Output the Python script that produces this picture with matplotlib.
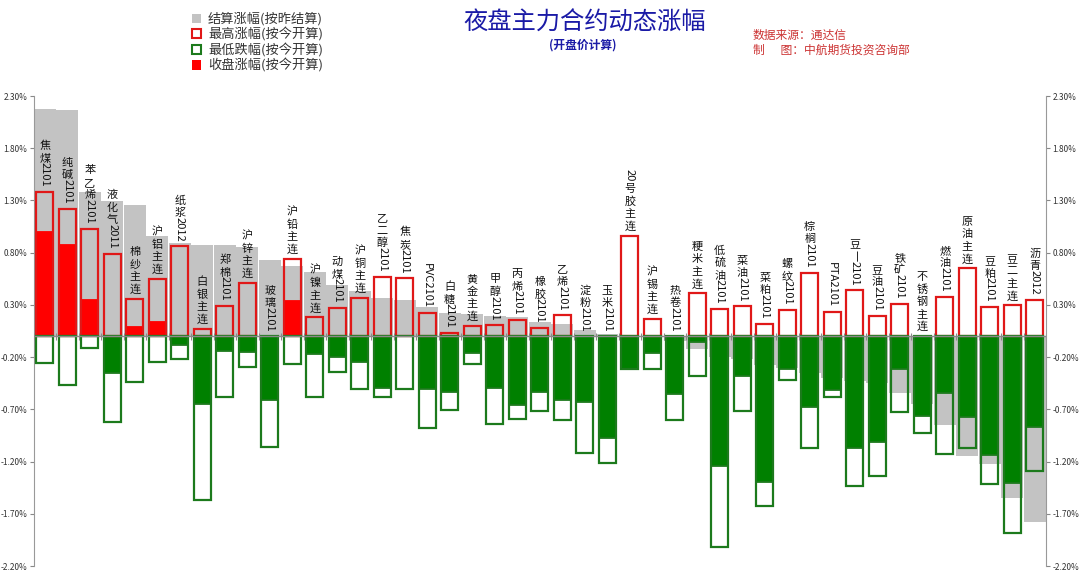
import numpy as np
import matplotlib
matplotlib.use("Agg")
import matplotlib.pyplot as plt
from matplotlib.patches import Patch

plt.rcParams['font.family'] = ['Noto Sans CJK SC', 'DejaVu Sans']

names = ['焦煤2101', '纯碱2101', '苯乙烯2101', '液化气2011', '棉纱主连', '沪铝主连', '纸浆2012',
         '白银主连', '郑棉2101', '沪锌主连', '玻璃2101', '沪铅主连', '沪镍主连', '动煤2101',
         '沪铜主连', '乙二醇2101', '焦炭2101', 'PVC2101', '白糖2101', '黄金主连', '甲醇2101',
         '丙烯2101', '橡胶2101', '乙烯2101', '淀粉2101', '玉米2101', '20号胶主连', '沪锡主连',
         '热卷2101', '粳米主连', '低硫油2101', '菜油2101', '菜粕2101', '螺纹2101', '棕榈2101',
         'PTA2101', '豆一2101', '豆油2101', '铁矿2101', '不锈钢主连', '燃油2101', '原油主连',
         '豆粕2101', '豆二主连', '沥青2012']

# 结算涨幅(按昨结算)
settle = [2.18, 2.17, 1.38, 1.29, 1.26, 0.96, 0.89, 0.875, 0.87, 0.85, 0.73, 0.67, 0.615, 0.49,
          0.435, 0.365, 0.35, 0.28, 0.225, 0.21, 0.19, 0.18, 0.14, 0.115, 0.06, 0.025, 0.0, -0.01,
          -0.05, -0.12, -0.20, -0.22, -0.28, -0.30, -0.35, -0.40, -0.43, -0.45, -0.54, -0.65,
          -0.85, -1.145, -1.22, -1.55, -1.78]
# 最高涨幅(按今开算)
high = [1.38, 1.22, 1.03, 0.79, 0.36, 0.55, 0.86, 0.07, 0.29, 0.51, 0.0, 0.74, 0.18, 0.27,
        0.37, 0.57, 0.555, 0.225, 0.03, 0.10, 0.105, 0.155, 0.08, 0.20, 0.0, 0.0, 0.96, 0.165,
        0.0, 0.41, 0.26, 0.285, 0.12, 0.25, 0.61, 0.235, 0.44, 0.195, 0.31, 0.0, 0.38, 0.65,
        0.28, 0.295, 0.35]
# 最低跌幅(按今开算)
low = [-0.26, -0.47, -0.11, -0.82, -0.44, -0.245, -0.215, -1.565, -0.58, -0.29, -1.065, -0.27,
       -0.585, -0.34, -0.51, -0.58, -0.51, -0.88, -0.705, -0.265, -0.845, -0.79, -0.72, -0.805,
       -1.12, -1.215, -0.31, -0.315, -0.80, -0.38, -2.02, -0.72, -1.63, -0.42, -1.07, -0.58,
       -1.43, -1.34, -0.73, -0.93, -1.13, -1.07, -1.415, -1.88, -1.29]
# 收盘涨幅(按今开算)
close = [1.00, 0.87, 0.35, -0.35, 0.09, 0.135, -0.08, -0.65, -0.145, -0.155, -0.61, 0.335,
         -0.17, -0.20, -0.25, -0.50, 0.0, -0.51, -0.53, -0.16, -0.50, -0.655, -0.535, -0.61,
         -0.63, -0.975, -0.31, -0.165, -0.55, -0.06, -1.24, -0.38, -1.40, -0.31, -0.68, -0.515,
         -1.075, -1.01, -0.31, -0.76, -0.54, -0.77, -1.14, -1.405, -0.865]

yticks = [2.3, 1.8, 1.3, 0.8, 0.3, -0.2, -0.7, -1.2, -1.7, -2.2]

GRAY = '#c3c3c3'
RED = '#ff0000'
RED_EDGE = '#e01818'
GREEN = '#008000'
GREEN_EDGE = '#1c7a1c'

fig = plt.figure(figsize=(10.8, 5.72), dpi=100)
ax = fig.add_axes([33.5 / 1080, 6 / 572, (1046 - 33.5) / 1080, 470 / 572])

x = np.arange(len(names))
high = np.array(high)
low = np.array(low)
close = np.array(close)

ax.bar(x, settle, width=0.96, color=GRAY, zorder=1)

cl_col = np.array([RED if c > 0 else GREEN for c in close])
cl_edge = np.array([RED if c > 0 else GREEN_EDGE for c in close])
m = close != 0
ax.bar(x[m], close[m], width=0.74, color=cl_col[m], edgecolor=cl_edge[m],
       linewidth=1.3, zorder=2)

m = high > 0
ax.bar(x[m], high[m], width=0.74, facecolor='none', edgecolor=RED_EDGE, linewidth=1.6, zorder=3)
m = low < 0
ax.bar(x[m], low[m], width=0.74, facecolor='none', edgecolor=GREEN_EDGE, linewidth=1.6, zorder=3)

# 类别轴(在0处)
ax.axhline(0, color='#8a8a8a', lw=1, zorder=4)
ax.vlines(np.arange(-0.5, len(names)), -0.035, 0.035, color='#8a8a8a', lw=0.8, zorder=4)

ax.set_xlim(-0.5, len(names) - 0.5)
ax.set_ylim(-2.2, 2.3)
ax.set_xticks([])
ax.set_yticks(yticks)
ax.set_yticklabels([f'{v:.2f}%' for v in yticks])
ax.yaxis.set_ticks_position('both')
ax.tick_params(axis='y', direction='out', length=3, labelsize=6, labelcolor='#333333',
               color='#888888', labelright=True, pad=1.5)
for s in ['top', 'bottom']:
    ax.spines[s].set_visible(False)
for s in ['left', 'right']:
    ax.spines[s].set_color('#999999')


def split_label(s):
    # 返回 (文字, 旋转角, 高度像素)
    toks = []
    run = ''
    for ch in s:
        if ch.isascii():
            run += ch
            continue
        if run:
            toks.append((run, -90, 5.6 * len(run) + 2))
            run = ''
        if ch == '一':
            toks.append((ch, -90, 12.5))
        else:
            toks.append((ch, 0, 12.5))
    if run:
        toks.append((run, -90, 5.6 * len(run) + 2))
    return toks


# 竖排标签: 汉字直立, 数字字母旋转
for i, name in enumerate(names):
    base = max(high[i], 0)
    off = 5
    for tok, rot, h in reversed(split_label(name)):
        ax.annotate(tok, (i, base), xytext=(0, off - (1 if rot == 0 else 0)),
                    textcoords='offset pixels', ha='center', va='bottom', rotation=rot,
                    fontsize=8, color='#111111', zorder=5)
        off += h

handles = [Patch(facecolor=GRAY, edgecolor='none'),
           Patch(facecolor='white', edgecolor=RED_EDGE, linewidth=1.5),
           Patch(facecolor='white', edgecolor=GREEN_EDGE, linewidth=1.5),
           Patch(facecolor=RED, edgecolor='none')]
labels = ['结算涨幅(按昨结算)', '最高涨幅(按今开算)', '最低跌幅(按今开算)', '收盘涨幅(按今开算)']
fig.legend(handles, labels, loc='upper left', bbox_to_anchor=(183 / 1080, 1 - 3 / 572),
           frameon=False, fontsize=9.5, handlelength=0.7, handleheight=0.7,
           handletextpad=0.5, labelspacing=0.12, borderpad=0.2, labelcolor='#333333')

fig.text(585 / 1080, 1 - 23 / 572, '夜盘主力合约动态涨幅', ha='center', va='center',
         fontsize=17.5, color='#1a1aa6')
fig.text(583 / 1080, 1 - 45 / 572, '(开盘价计算)', ha='center', va='center',
         fontsize=8.5, fontweight='bold', color='#1a1aa6')
fig.text(753 / 1080, 1 - 35 / 572, '数据来源：通达信', ha='left', va='center',
         fontsize=8.5, color='#cc3333')
fig.text(753 / 1080, 1 - 50 / 572, '制      图：中航期货投资咨询部', ha='left', va='center',
         fontsize=8.5, color='#cc3333')

fig.savefig('out.png', dpi=100)
